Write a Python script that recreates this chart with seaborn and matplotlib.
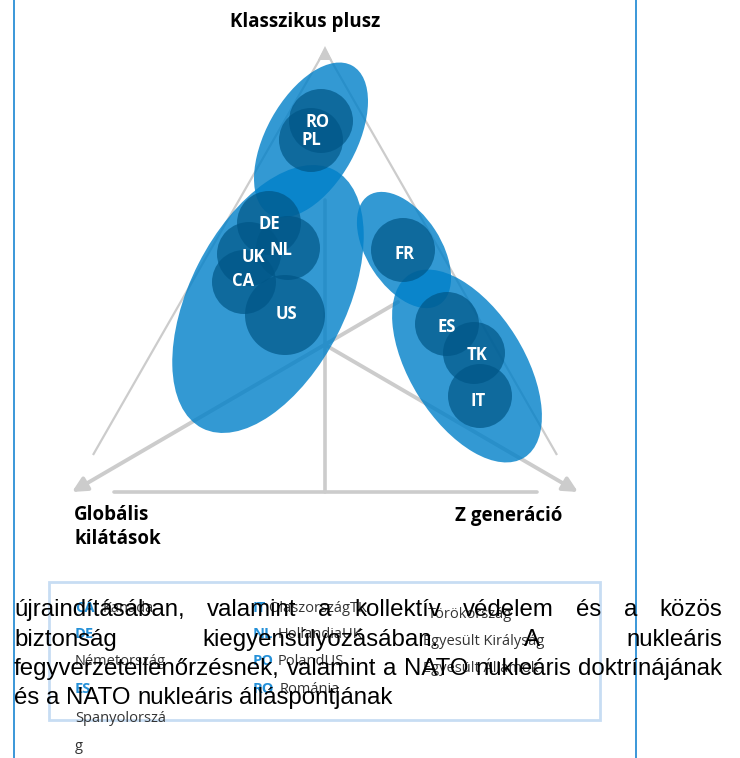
import matplotlib
matplotlib.use("Agg")
import matplotlib.pyplot as plt
from matplotlib.patches import Ellipse, Rectangle
import seaborn as sns
import pandas as pd

sns.set_theme(style="white")
plt.rcParams['font.family'] = ['Open Sans', 'DejaVu Sans']

# ---------------- data ----------------
countries = ["RO", "PL", "DE", "NL", "UK", "CA", "US", "FR", "ES", "TK", "IT"]
circle_x = [321, 311, 269, 288, 249, 244, 285, 403, 447, 474, 480]
circle_y = [121, 140, 223, 248, 254, 282, 315, 250, 324, 353, 396]
circle_r = [32, 32, 32, 32, 32, 32, 40, 32, 32, 31, 32]
label_x = [318, 311, 269, 281, 253, 243, 286, 405, 447, 477, 478]
label_y = [121, 139, 223, 249, 256, 280, 313, 253, 326, 354, 400]

group_cx = [311, 268, 404, 467]
group_cy = [140, 299, 250, 366]
group_w = [170, 290, 130, 216]
group_h = [90, 156, 74, 114]
group_angle = [-61, -63, 57, 58]

title = "Klasszikus plusz"
axis_left = ["Globális", "kilátások"]
axis_right = "Z generáció"

legend_abbr = [("CA", 75, 612), ("DE", 75, 638), ("ES", 75, 693),
               ("IT", 253, 612), ("NL", 253, 638), ("PO", 253, 665), ("RO", 253, 693)]
legend_names = [("Kanada", 103, 612), ("Németország", 75, 665), ("Spanyolorszá", 75, 722),
                ("g", 75, 750), ("OlaszországTK", 268, 612), ("HollandiaUK", 278, 638),
                ("PolandUS", 278, 665), ("Románia", 280, 693),
                ("Törökország", 428, 618), ("Egyesült Királyság", 423, 645),
                ("Egyesült Államok", 423, 672)]

body_lines = [
    ("újraindításában, valamint a kollektív védelem és a közös", 616, True),
    ("biztonság kiegyensúlyozásában. A nukleáris", 646, True),
    ("fegyverzetellenőrzésnek, valamint a NATO nukleáris doktrínájának", 675, True),
    ("és a NATO nukleáris álláspontjának", 704, False),
]

# ---------------- figure ----------------
fig = plt.figure(figsize=(7.4, 7.58), dpi=100)
ax = fig.add_axes([0, 0, 1, 1])
W, H = 740, 758

grey = "#cccccc"
# triangle thin edges
ax.plot([325, 93], [50, 455], color=grey, lw=1.6, zorder=1, solid_capstyle='butt')
ax.plot([325, 557], [50, 455], color=grey, lw=1.6, zorder=1, solid_capstyle='butt')
ax.fill([318, 325, 332], [60, 46, 60], color=grey, zorder=1, lw=0)
# bottom base & axes
ax.plot([114, 537], [492, 492], color=grey, lw=2.6, zorder=1)
ax.plot([325, 325], [200, 492], color=grey, lw=2.6, zorder=1)
ax.annotate("", xy=(72, 492), xytext=(398, 302),
            arrowprops=dict(arrowstyle="-|>", lw=2.8, color=grey,
                            mutation_scale=22, shrinkA=0, shrinkB=0), zorder=1)
ax.annotate("", xy=(578, 492), xytext=(327, 346),
            arrowprops=dict(arrowstyle="-|>", lw=2.8, color=grey,
                            mutation_scale=22, shrinkA=0, shrinkB=0), zorder=1)

# group ellipses
for cx, cy, w, h, a in zip(group_cx, group_cy, group_w, group_h, group_angle):
    ax.add_patch(Ellipse((cx, cy), w, h, angle=a, facecolor="#0080c9",
                         alpha=0.8, lw=0, zorder=2))

# country circles through seaborn
df = pd.DataFrame({"x": circle_x, "y": circle_y, "r": circle_r, "c": countries})
size_map = {r: (2 * r * 72 / 100) ** 2 for r in set(circle_r)}
sns.scatterplot(data=df, x="x", y="y", size="r", sizes=size_map, color="#005687",
                alpha=0.7, linewidth=0, legend=False, ax=ax, zorder=3)

for c, x, y in zip(countries, label_x, label_y):
    ax.text(x, y + 6, c, color="white", fontsize=12, fontweight="bold",
            ha="center", va="baseline", zorder=4)

# title & axis labels
ax.text(305, 27, title, fontsize=13.5, fontweight="bold", ha="center", va="baseline", color="#000000")
ax.text(74, 520, axis_left[0], fontsize=13.5, fontweight="bold", ha="left", va="baseline", color="#000000")
ax.text(74, 544, axis_left[1], fontsize=13.5, fontweight="bold", ha="left", va="baseline", color="#000000")
ax.text(455, 521, axis_right, fontsize=13.5, fontweight="bold", ha="left", va="baseline", color="#000000")

# page frame lines
ax.plot([14, 14], [0, H], color="#2b8fd6", lw=1.3, zorder=5)
ax.plot([636, 636], [0, H], color="#2b8fd6", lw=1.3, zorder=5)

# legend box
ax.add_patch(Rectangle((49, 582), 551, 138, fill=False, edgecolor="#c7ddf3", lw=2, zorder=5))
for t, x, y in legend_abbr:
    ax.text(x, y, t, color="#2490d8", fontsize=10.5, fontweight="bold", va="baseline", zorder=6)
for t, x, y in legend_names:
    ax.text(x, y, t, color="#333333", fontsize=10.5, va="baseline", zorder=6)

# body text (justified)
renderer = fig.canvas.get_renderer()
x0, x1 = 14, 722
fs_body = 17.3
for line, y, just in body_lines:
    words = line.split(" ")
    ts = [ax.text(0, y, w, fontsize=fs_body, family=["Liberation Sans", "DejaVu Sans"],
                  color="#000000", va="baseline", zorder=7) for w in words]
    widths = [t.get_window_extent(renderer).width for t in ts]
    if just:
        gap = (x1 - x0 - sum(widths)) / (len(words) - 1)
    else:
        sp = ax.text(0, 0, "a a", fontsize=fs_body, family=["Liberation Sans"])
        aw = ax.text(0, 0, "aa", fontsize=fs_body, family=["Liberation Sans"])
        gap = sp.get_window_extent(renderer).width - aw.get_window_extent(renderer).width
        sp.remove(); aw.remove()
    x = x0
    for t, w in zip(ts, widths):
        t.set_x(x)
        x += w + gap

ax.set_xlim(0, W)
ax.set_ylim(H, 0)
ax.axis("off")
fig.savefig("out.png", dpi=100)
